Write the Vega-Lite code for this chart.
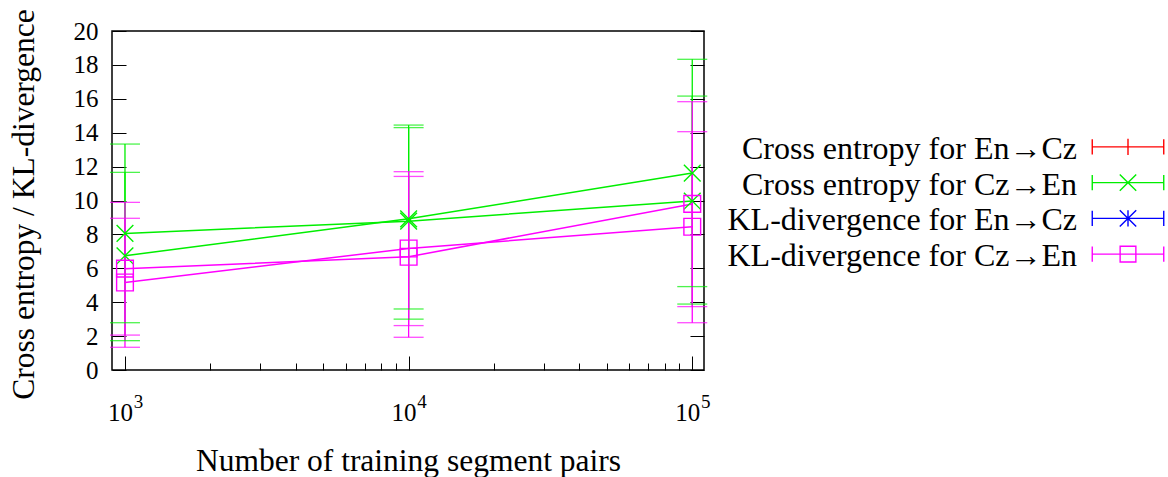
{
  "$schema": "https://vega.github.io/schema/vega-lite/v6.json",
  "autosize": {"type": "pad"},
  "padding": {"left": 7, "top": 8, "right": 0, "bottom": 0},
  "bounds": "flush",
  "center": true,
  "spacing": 388,
  "config": {
    "font": "Liberation Serif",
    "axis": {
      "labelFont": "Liberation Serif",
      "titleFont": "Liberation Serif",
      "labelColor": "#000",
      "titleColor": "#000",
      "titleFontWeight": "normal",
      "tickColor": "#000",
      "tickWidth": 1,
      "grid": false,
      "domain": false,
      "labelFlush": false,
      "labelOverlap": false
    }
  },
  "datasets": {
    "points": [
      {"series": "Cross entropy for En→Cz", "n": 1000, "value": 8.06, "lo": 2.79, "hi": 13.33},
      {"series": "Cross entropy for En→Cz", "n": 10000, "value": 8.78, "lo": 3.0, "hi": 14.45},
      {"series": "Cross entropy for En→Cz", "n": 100000, "value": 9.97, "lo": 3.89, "hi": 16.16},
      {"series": "Cross entropy for Cz→En", "n": 1000, "value": 6.74, "lo": 1.73, "hi": 11.66},
      {"series": "Cross entropy for Cz→En", "n": 10000, "value": 8.92, "lo": 3.6, "hi": 14.3},
      {"series": "Cross entropy for Cz→En", "n": 100000, "value": 11.62, "lo": 4.92, "hi": 18.33},
      {"series": "KL-divergence for En→Cz", "n": 1000, "value": 5.98, "lo": 2.06, "hi": 9.89},
      {"series": "KL-divergence for En→Cz", "n": 10000, "value": 6.68, "lo": 1.93, "hi": 11.42},
      {"series": "KL-divergence for En→Cz", "n": 100000, "value": 9.8, "lo": 3.74, "hi": 15.83},
      {"series": "KL-divergence for Cz→En", "n": 1000, "value": 5.16, "lo": 1.34, "hi": 8.95},
      {"series": "KL-divergence for Cz→En", "n": 10000, "value": 7.17, "lo": 2.62, "hi": 11.7},
      {"series": "KL-divergence for Cz→En", "n": 100000, "value": 8.45, "lo": 2.79, "hi": 14.06}
    ],
    "legend": [
      {"series": "Cross entropy for En→Cz"},
      {"series": "Cross entropy for Cz→En"},
      {"series": "KL-divergence for En→Cz"},
      {"series": "KL-divergence for Cz→En"}
    ]
  },
  "hconcat": [
    {
      "width": 592,
      "height": 339,
      "view": {"stroke": "#000", "strokeWidth": 1.5},
      "data": {"name": "points"},
      "layer": [
        {
          "mark": {"type": "rule", "strokeWidth": 1.3},
          "encoding": {
            "x": {
              "field": "n", "type": "quantitative",
              "scale": {"type": "log", "domain": [900, 110000], "nice": false},
              "axis": {
                "orient": "bottom",
                "values": [1000, 2000, 3000, 4000, 5000, 6000, 7000, 8000, 9000, 10000, 20000, 30000, 40000, 50000, 60000, 70000, 80000, 90000, 100000],
                "labelExpr": "(datum.value == 1000 || datum.value == 10000 || datum.value == 100000) ? '10' : ''",
                "tickSize": {"condition": {"test": "datum.value == 1000 || datum.value == 10000 || datum.value == 100000", "value": -14}, "value": -7},
                "labelPadding": 44,
                "labelOffset": -5,
                "labelFontSize": 25,
                "title": "Number of training segment pairs",
                "titleFontSize": 31.5,
                "titlePadding": 13
              }
            },
            "y": {
              "field": "lo", "type": "quantitative",
              "scale": {"domain": [0, 20], "nice": false, "zero": false},
              "axis": {
                "orient": "left",
                "values": [0, 2, 4, 6, 8, 10, 12, 14, 16, 18, 20],
                "tickSize": -14,
                "labelPadding": 28,
                "labelFontSize": 25,
                "title": "Cross entropy / KL-divergence",
                "titleFontSize": 31.5,
                "titlePadding": 33,
                "titleY": 173
              }
            },
            "y2": {"field": "hi"},
            "color": {
              "field": "series", "type": "nominal",
              "scale": {
                "domain": ["Cross entropy for En→Cz", "Cross entropy for Cz→En", "KL-divergence for En→Cz", "KL-divergence for Cz→En"],
                "range": ["#00ee00", "#00ee00", "#ff00ff", "#ff00ff"]
              },
              "legend": null
            }
          }
        },
        {
          "mark": {"type": "tick", "orient": "horizontal", "size": 30, "thickness": 1.3},
          "encoding": {
            "x": {
              "field": "n", "type": "quantitative",
              "axis": {
                "orient": "bottom",
                "values": [1000, 10000, 100000],
                "labelExpr": "datum.value == 1000 ? '3' : (datum.value == 10000 ? '4' : '5')",
                "ticks": false,
                "labelPadding": 22,
                "labelOffset": 13,
                "labelFontSize": 19,
                "title": null
              }
            },
            "y": {
              "field": "lo", "type": "quantitative",
              "axis": {
                "orient": "right",
                "values": [0, 2, 4, 6, 8, 10, 12, 14, 16, 18, 20],
                "tickSize": -14,
                "labels": false,
                "title": null
              }
            },
            "color": {"field": "series", "type": "nominal", "legend": null}
          }
        },
        {
          "mark": {"type": "tick", "orient": "horizontal", "size": 30, "thickness": 1.3},
          "encoding": {
            "x": {"field": "n", "type": "quantitative", "axis": null},
            "y": {"field": "hi", "type": "quantitative", "axis": null},
            "color": {"field": "series", "type": "nominal", "legend": null}
          }
        },
        {
          "mark": {"type": "line", "strokeWidth": 1.5},
          "encoding": {
            "x": {"field": "n", "type": "quantitative", "axis": null},
            "y": {"field": "value", "type": "quantitative", "axis": null},
            "color": {"field": "series", "type": "nominal", "legend": null}
          }
        },
        {
          "mark": {"type": "point", "filled": false, "size": 280, "strokeWidth": 1.4, "opacity": 1},
          "encoding": {
            "x": {"field": "n", "type": "quantitative", "axis": null},
            "y": {"field": "value", "type": "quantitative", "axis": null},
            "color": {"field": "series", "type": "nominal", "legend": null},
            "shape": {
              "field": "series", "type": "nominal",
              "scale": {
                "domain": ["Cross entropy for En→Cz", "Cross entropy for Cz→En", "KL-divergence for En→Cz", "KL-divergence for Cz→En"],
                "range": ["M-1,-1L1,1M-1,1L1,-1", "M-1,-1L1,1M-1,1L1,-1", "M-1,-1L1,-1L1,1L-1,1Z", "M-1,-1L1,-1L1,1L-1,1Z"]
              },
              "legend": null
            }
          }
        }
      ],
      "resolve": {"axis": {"x": "independent", "y": "independent"}}
    },
    {
      "width": 72,
      "height": 143,
      "view": {"stroke": null},
      "data": {"name": "legend"},
      "layer": [
        {
          "mark": {"type": "text", "align": "right", "baseline": "middle", "dx": -51, "dy": 2, "font": "Liberation Serif", "fontSize": 32, "color": "#000"},
          "encoding": {
            "y": {
              "field": "series", "type": "nominal",
              "scale": {"type": "point", "domain": ["Cross entropy for En→Cz", "Cross entropy for Cz→En", "KL-divergence for En→Cz", "KL-divergence for Cz→En"], "padding": 0.5},
              "axis": null
            },
            "text": {"field": "series", "type": "nominal"}
          }
        },
        {
          "mark": {"type": "point", "filled": false, "size": 5112, "strokeWidth": 1.4, "opacity": 1},
          "encoding": {
            "y": {
              "field": "series", "type": "nominal",
              "scale": {"type": "point", "domain": ["Cross entropy for En→Cz", "Cross entropy for Cz→En", "KL-divergence for En→Cz", "KL-divergence for Cz→En"], "padding": 0.5},
              "axis": null
            },
            "color": {
              "field": "series", "type": "nominal",
              "scale": {
                "domain": ["Cross entropy for En→Cz", "Cross entropy for Cz→En", "KL-divergence for En→Cz", "KL-divergence for Cz→En"],
                "range": ["#ff0000", "#00ee00", "#0000ff", "#ff00ff"]
              },
              "legend": null
            },
            "shape": {
              "field": "series", "type": "nominal",
              "scale": {
                "domain": ["Cross entropy for En→Cz", "Cross entropy for Cz→En", "KL-divergence for En→Cz", "KL-divergence for Cz→En"],
                "range": [
                  "M-1,0L1,0M-1,-0.21L-1,0.21M1,-0.21L1,0.21M0,-0.23L0,0.23",
                  "M-1,0L1,0M-1,-0.21L-1,0.21M1,-0.21L1,0.21M-0.23,-0.23L0.23,0.23M-0.23,0.23L0.23,-0.23",
                  "M-1,0L1,0M-1,-0.21L-1,0.21M1,-0.21L1,0.21M-0.23,-0.23L0.23,0.23M-0.23,0.23L0.23,-0.23M0,-0.23L0,0.23",
                  "M-1,0L1,0M-1,-0.21L-1,0.21M1,-0.21L1,0.21M-0.22,-0.22L0.22,-0.22L0.22,0.22L-0.22,0.22Z"
                ]
              },
              "legend": null
            }
          }
        }
      ],
      "resolve": {"scale": {"color": "independent", "shape": "independent"}}
    }
  ],
  "resolve": {"scale": {"color": "independent", "shape": "independent", "y": "independent"}}
}
